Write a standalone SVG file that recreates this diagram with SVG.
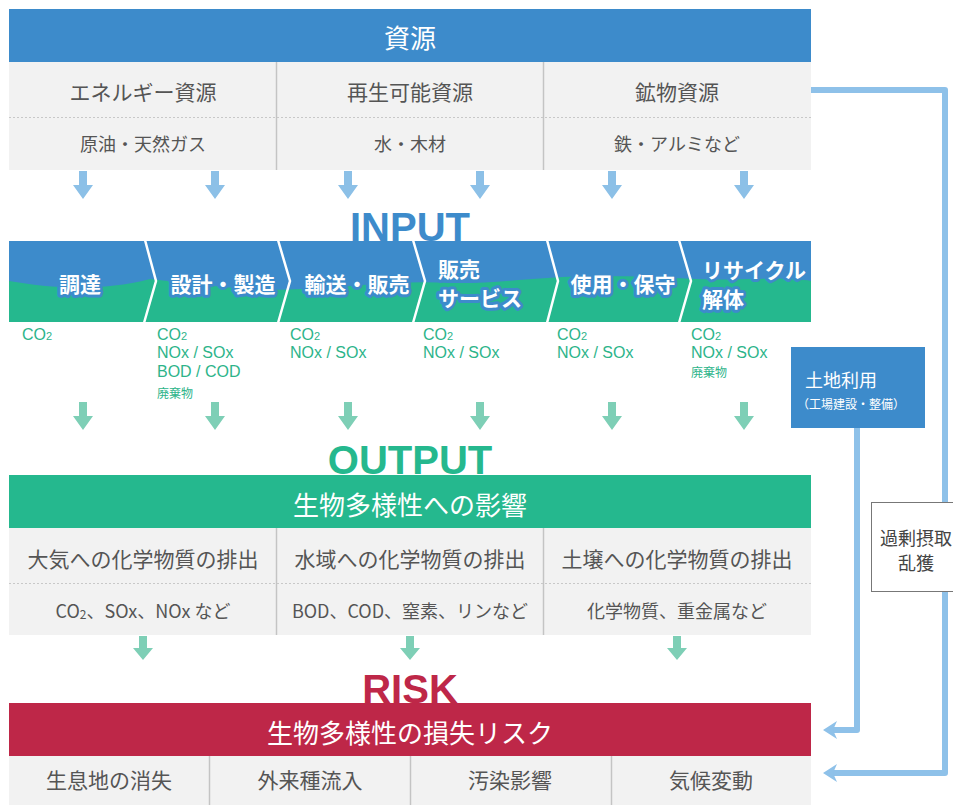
<svg xmlns="http://www.w3.org/2000/svg" width="953" height="805" viewBox="0 0 953 805">
<defs>
<style>
text{font-family:"Noto Sans CJK JP","Noto Sans CJK SC",sans-serif;}
.c{text-anchor:middle;dominant-baseline:central}
.l{dominant-baseline:central}
.hd{fill:#fff;font-size:26px}
.t1{fill:#555;font-size:21px}
.t2{fill:#555;font-size:18px}
.pr{fill:#fff;font-size:21px;font-weight:bold;stroke:#3d8bcb;stroke-width:6;stroke-linejoin:round;paint-order:stroke}
.em{fill:#2db48a;font-family:"Liberation Sans",Arial,sans-serif;font-size:16px}
.emj{fill:#2db48a;font-size:12px}
.big{font-family:"Liberation Sans",Arial,sans-serif;font-weight:bold;font-size:40px;text-anchor:middle}
.cell{fill:#f2f2f2}
.vdiv{stroke:#c4c4c4;stroke-width:1.5}
.dot{stroke:#c8c8c8;stroke-width:1;stroke-dasharray:2 2}
.sep{fill:none;stroke:#fff;stroke-width:2.5}
.conn{fill:none;stroke:#8ec1e9;stroke-width:6;stroke-linejoin:round;marker-end:url(#ah)}
</style>
<path id="arB" d="M-4,0 H4 V14 H10 L0,28 L-10,14 H-4 Z" fill="#8cc0e7"/>
<path id="arG" d="M-4,0 H4 V14 H10 L0,28 L-10,14 H-4 Z" fill="#7ecfb6"/>
<path id="arG2" d="M-4,0 H4 V12 H10 L0,24 L-10,12 H-4 Z" fill="#7ecfb6"/>
<marker id="ah" markerUnits="userSpaceOnUse" markerWidth="16" markerHeight="20" refX="7" refY="10" orient="auto" viewBox="0 0 16 20">
<path d="M0,1 L14,10 L0,19 L4,10 Z" fill="#8ec1e9"/>
</marker>
</defs>
<rect width="953" height="805" fill="#fff"/>

<g id="connectors">
<path class="conn" d="M811,90 H945 V773 H830"/>
<path class="conn" d="M857,428 V730 H830"/>
<use href="#arB" x="83" y="171"/><use href="#arB" x="215" y="171"/><use href="#arB" x="348" y="171"/>
<use href="#arB" x="480" y="171"/><use href="#arB" x="612" y="171"/><use href="#arB" x="744" y="171"/>
<use href="#arG" x="83" y="402"/><use href="#arG" x="215" y="402"/><use href="#arG" x="348" y="402"/>
<use href="#arG" x="480" y="402"/><use href="#arG" x="612" y="402"/><use href="#arG" x="744" y="402"/>
<use href="#arG2" x="143" y="636"/><use href="#arG2" x="410" y="636"/><use href="#arG2" x="677" y="636"/>
</g>

<g id="resources">
<rect x="9" y="9" width="802" height="53" fill="#3d8bcb"/>
<text class="c hd" x="410" y="36">資源</text>
<rect class="cell" x="9" y="62" width="802" height="108"/>
<line class="vdiv" x1="276.5" y1="62" x2="276.5" y2="170"/>
<line class="vdiv" x1="543.5" y1="62" x2="543.5" y2="170"/>
<line class="dot" x1="9" y1="117.5" x2="811" y2="117.5"/>
</g>
<g id="res-energy"><text class="c t1" x="143" y="91">エネルギー資源</text><text class="c t2" x="143" y="143">原油・天然ガス</text></g>
<g id="res-renewable"><text class="c t1" x="410" y="91">再生可能資源</text><text class="c t2" x="410" y="143">水・木材</text></g>
<g id="res-mineral"><text class="c t1" x="677" y="91">鉱物資源</text><text class="c t2" x="677" y="143">鉄・アルミなど</text></g>

<g id="input-title"><text class="big" x="410" y="241" fill="#3d8bcb">INPUT</text></g>

<g id="process-band">
<rect x="9" y="241" width="802" height="81" fill="#3d8bcb"/>
<path d="M9,281 C50,288 100,292 150,279 C200,284 250,292 300,289 C350,287 400,280 450,283 C500,284 540,276 600,276 C660,276 700,281 750,279 C780,278 800,279 811,281 L811,322 L9,322 Z" fill="#25b88e"/>
<polyline class="sep" points="145,240 156,281 144,323"/>
<polyline class="sep" points="278,240 290,281 278,323"/>
<polyline class="sep" points="413,240 425,281 413,323"/>
<polyline class="sep" points="547,240 558,281 547,323"/>
<polyline class="sep" points="679,240 691,281 679,323"/>
</g>
<g id="step-procure"><text class="c pr" x="80" y="283">調達</text>
<text class="em" x="22" y="340">CO<tspan font-size="11">2</tspan></text></g>
<g id="step-design"><text class="c pr" x="223" y="283">設計・製造</text>
<text class="em" x="157" y="340">CO<tspan font-size="11">2</tspan></text>
<text class="em" x="157" y="358">NOx / SOx</text>
<text class="em" x="157" y="377">BOD / COD</text>
<text class="l emj" x="157" y="392">廃棄物</text></g>
<g id="step-transport"><text class="c pr" x="357" y="283">輸送・販売</text>
<text class="em" x="290" y="340">CO<tspan font-size="11">2</tspan></text>
<text class="em" x="290" y="358">NOx / SOx</text></g>
<g id="step-sales"><text class="l pr" x="438" y="268">販売</text><text class="l pr" x="438" y="297">サービス</text>
<text class="em" x="423" y="340">CO<tspan font-size="11">2</tspan></text>
<text class="em" x="423" y="358">NOx / SOx</text></g>
<g id="step-use"><text class="c pr" x="623" y="283">使用・保守</text>
<text class="em" x="557" y="340">CO<tspan font-size="11">2</tspan></text>
<text class="em" x="557" y="358">NOx / SOx</text></g>
<g id="step-recycle"><text class="l pr" x="702" y="269">リサイクル</text><text class="l pr" x="702" y="298">解体</text>
<text class="em" x="691" y="340">CO<tspan font-size="11">2</tspan></text>
<text class="em" x="691" y="358">NOx / SOx</text>
<text class="l emj" x="691" y="371">廃棄物</text></g>

<g id="land-use">
<rect x="791" y="347" width="134" height="81" fill="#3d8bcb"/>
<text class="l" x="805" y="379" fill="#fff" font-size="18">土地利用</text>
<text class="l" x="797" y="403" fill="#fff" font-size="12">（工場建設・整備）</text>
</g>

<g id="overharvest">
<rect x="871.5" y="502.5" width="95" height="89" fill="#fff" stroke="#777" stroke-width="1"/>
<text class="c" x="916" y="537" fill="#444" font-size="18">過剰摂取</text>
<text class="c" x="916" y="562" fill="#444" font-size="18">乱獲</text>
</g>

<g id="output-title"><text class="big" x="410" y="474" fill="#25b88e">OUTPUT</text></g>
<g id="output">
<rect x="9" y="475" width="802" height="53" fill="#25b88e"/>
<text class="c hd" x="410" y="503">生物多様性への影響</text>
<rect class="cell" x="9" y="528" width="802" height="107"/>
<line class="vdiv" x1="276.5" y1="528" x2="276.5" y2="635"/>
<line class="vdiv" x1="543.5" y1="528" x2="543.5" y2="635"/>
<line class="dot" x1="9" y1="583.5" x2="811" y2="583.5"/>
</g>
<g id="out-air"><text class="c t1" x="143" y="558">大気への化学物質の排出</text><text class="c t2" x="143" y="610">CO<tspan font-size="12" dy="3">2</tspan><tspan dy="-3">、SOx、NOx など</tspan></text></g>
<g id="out-water"><text class="c t1" x="410" y="558">水域への化学物質の排出</text><text class="c t2" x="410" y="610">BOD、COD、窒素、リンなど</text></g>
<g id="out-soil"><text class="c t1" x="677" y="558">土壌への化学物質の排出</text><text class="c t2" x="677" y="610">化学物質、重金属など</text></g>

<g id="risk-title"><text class="big" x="410" y="703" fill="#be2748">RISK</text></g>
<g id="risk">
<rect x="9" y="703" width="802" height="53" fill="#be2748"/>
<text class="c hd" x="410" y="731">生物多様性の損失リスク</text>
<rect class="cell" x="9" y="756" width="802" height="49"/>
<line class="vdiv" x1="209.5" y1="756" x2="209.5" y2="805"/>
<line class="vdiv" x1="410.5" y1="756" x2="410.5" y2="805"/>
<line class="vdiv" x1="611.5" y1="756" x2="611.5" y2="805"/>
</g>
<g id="risk-habitat"><text class="c t1" x="109" y="779">生息地の消失</text></g>
<g id="risk-invasive"><text class="c t1" x="310" y="779">外来種流入</text></g>
<g id="risk-pollution"><text class="c t1" x="510" y="779">汚染影響</text></g>
<g id="risk-climate"><text class="c t1" x="711" y="779">気候変動</text></g>
</svg>
